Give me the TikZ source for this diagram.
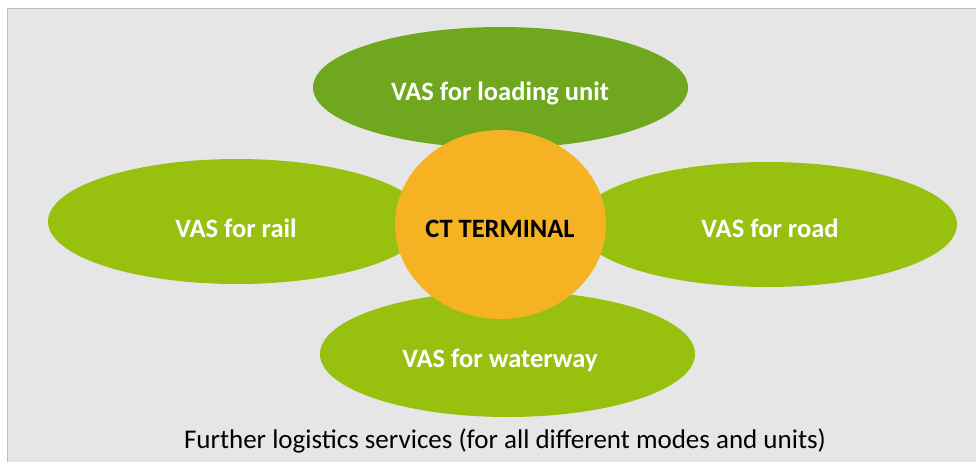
\documentclass[tikz,border=0pt]{standalone}
\usepackage{fontspec}
\setmainfont{Carlito}
\usetikzlibrary{shapes.geometric}
\definecolor{bg}{HTML}{E6E6E6}
\definecolor{framecol}{HTML}{BFBFBF}
\definecolor{dkgreen}{HTML}{6FA71F}
\definecolor{ltgreen}{HTML}{97C00F}
\definecolor{ctorange}{HTML}{F5B223}
\begin{document}
\begin{tikzpicture}[x=1pt,y=-1pt,
  oval/.style={ellipse, inner sep=0pt, draw=none},
  vastext/.style={anchor=base, text=white, font=\fontsize{26.5}{31}\selectfont\bfseries, inner sep=0pt},
  cttext/.style={anchor=base, text=black, font=\fontsize{26.5}{31}\selectfont\bfseries, inner sep=0pt},
  foot/.style={anchor=base, text=black, font=\fontsize{27}{32}\selectfont, inner sep=0pt}]
\useasboundingbox (0,0) rectangle (976,461);
\fill[bg] (7,8) rectangle (980,465);
\draw[framecol, line width=1pt] (7.5,465) -- (7.5,8.5) -- (980,8.5);

\node[oval, fill=dkgreen, minimum width=375pt, minimum height=121pt] (load) at (500.5,87.5) {};
\node[oval, fill=ltgreen, minimum width=378pt, minimum height=125pt] (rail) at (237,221.5) {};
\node[oval, fill=ltgreen, minimum width=380pt, minimum height=125pt] (road) at (767,224.5) {};
\node[oval, fill=ltgreen, minimum width=375pt, minimum height=126pt] (water) at (507.5,354) {};
\node[oval, fill=ctorange, minimum width=211pt, minimum height=189pt] (ct) at (500.5,224.5) {};

\node[vastext] (loadT) at (500,100) {VAS for loading unit};
\node[vastext] (railT) at (236,237) {VAS for rail};
\node[vastext] (roadT) at (770,237) {VAS for road};
\node[vastext] (waterT) at (500,367) {VAS for waterway};
\node[cttext] (ctT) at (500,237) {CT TERMINAL};

\node[foot] (further) at (505,448) {Further logistics services (for all different modes and units)};
\end{tikzpicture}
\end{document}
